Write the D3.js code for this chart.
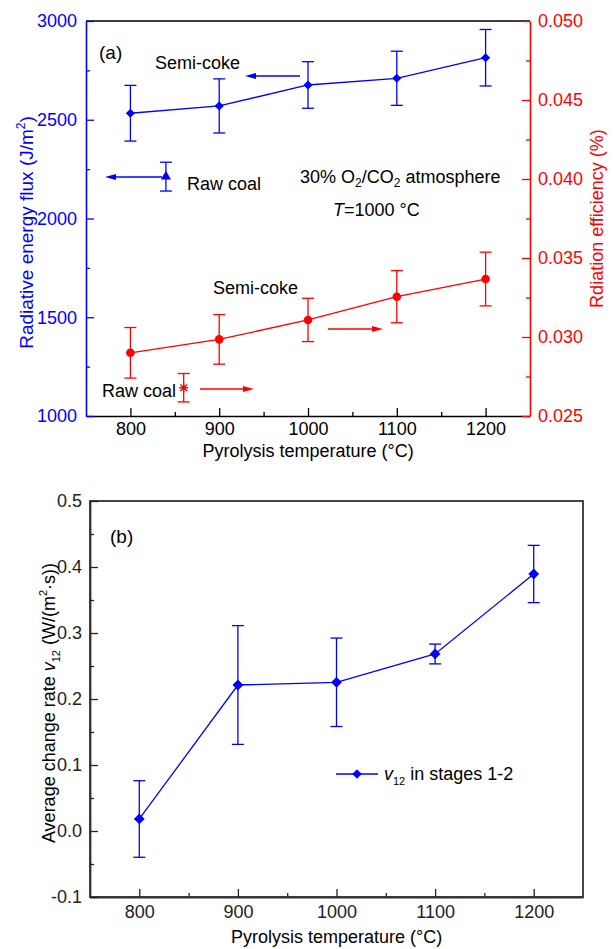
<!DOCTYPE html>
<html>
<head>
<meta charset="utf-8">
<script src="https://cdn.jsdelivr.net/npm/d3@7"></script>
<style>
  body { margin: 0; background: #fff; }
  svg { display: block; font-family: "Liberation Sans", Arial, sans-serif; }
</style>
</head>
<body>
<div id="chart"></div>
<script>
// Pyrolysis temperatures (x values shared by both panels)
const temps = [800, 900, 1000, 1100, 1200];

// Panel (a): semi-coke radiative energy flux (left axis) and radiation efficiency (right axis)
const fluxMean = [2533, 2570, 2676, 2710, 2814];
const fluxErr = [141, 137, 118, 137, 143];
const effMean = [0.0290, 0.02985, 0.03108, 0.03255, 0.03367];
const effErr = [0.0016, 0.00157, 0.00137, 0.00165, 0.0017];

// Panel (a): raw coal reference points
const rawFlux = {x: 840, y: 2212, err: 73};
const rawEff = {x: 860, y: 0.02679, err: 0.0009};

// Panel (b): average change rate v12
const v12Mean = [0.0182, 0.2212, 0.2253, 0.2682, 0.3894];
const v12Err = [0.058, 0.09, 0.067, 0.015, 0.0434];

// Tick values
const xTicks = [800, 900, 1000, 1100, 1200];
const xMinor = [850, 950, 1050, 1150];
const fluxTicks = [1000, 1500, 2000, 2500, 3000];
const fluxMinor = [1250, 1750, 2250, 2750];
const effTicks = [0.025, 0.030, 0.035, 0.040, 0.045, 0.050];
const effMinor = [0.0275, 0.0325, 0.0375, 0.0425, 0.0475];
const v12Ticks = [-0.1, 0.0, 0.1, 0.2, 0.3, 0.4, 0.5];
const v12Minor = [-0.05, 0.05, 0.15, 0.25, 0.35, 0.45];

const W = 613, H = 949;
const BLUE = "#0000ff", RED = "#ff0000";

const svg = d3.select("#chart").append("svg")
    .attr("width", W).attr("height", H);

// helper: axis with inward major + minor ticks
function drawAxis(g, axisFn, scale, major, minor, fmt, color, pad) {
    g.call(axisFn(scale).tickValues(major).tickSizeInner(-8).tickSizeOuter(0)
        .tickPadding(pad).tickFormat(fmt));
    g.call(sel => sel.selectAll(".tick text").attr("fill", color).attr("font-size", 18)
        .attr("font-family", "Liberation Sans, Arial, sans-serif"));
    g.call(sel => sel.selectAll(".tick line").attr("stroke", color).attr("stroke-width", 1.3));
    g.select(".domain").attr("stroke", color).attr("stroke-width", 1.6);
    const m = g.append("g").call(axisFn(scale).tickValues(minor).tickSizeInner(-4)
        .tickSizeOuter(0).tickFormat(""));
    m.select(".domain").remove();
    m.selectAll(".tick line").attr("stroke", color).attr("stroke-width", 1.3);
}

function errorBars(g, xs, ys, es, x, y, color) {
    const cap = 6;
    const eb = g.append("g").attr("stroke", color).attr("stroke-width", 1.3);
    xs.forEach((t, i) => {
        const cx = x(t), top = y(ys[i] + es[i]), bot = y(ys[i] - es[i]);
        eb.append("line").attr("x1", cx).attr("x2", cx).attr("y1", top).attr("y2", bot);
        eb.append("line").attr("x1", cx - cap).attr("x2", cx + cap).attr("y1", top).attr("y2", top);
        eb.append("line").attr("x1", cx - cap).attr("x2", cx + cap).attr("y1", bot).attr("y2", bot);
    });
}

function arrow(g, x1, y1, x2, y2, color) {
    const dir = Math.sign(x2 - x1);
    g.append("line").attr("x1", x1).attr("y1", y1).attr("x2", x2 - dir * 8).attr("y2", y2)
        .attr("stroke", color).attr("stroke-width", 1.3);
    g.append("path")
        .attr("d", `M${x2},${y2}L${x2 - dir * 11},${y2 - 3}L${x2 - dir * 11},${y2 + 3}Z`)
        .attr("fill", color);
}

// ---------- Panel (a) ----------
const a = {left: 86, right: 530, top: 21, bottom: 416};
const xa = d3.scaleLinear().domain([750, 1250]).range([a.left, a.right]);
const yFlux = d3.scaleLinear().domain([1000, 3000]).range([a.bottom, a.top]);
const yEff = d3.scaleLinear().domain([0.025, 0.050]).range([a.bottom, a.top]);

const ga = svg.append("g");

// top frame line
ga.append("line").attr("x1", a.left).attr("x2", a.right).attr("y1", a.top).attr("y2", a.top)
    .attr("stroke", "#000").attr("stroke-width", 1.6);

drawAxis(ga.append("g").attr("transform", `translate(0,${a.bottom})`),
    d3.axisBottom, xa, xTicks, xMinor, d3.format("d"), "#000", 6);
drawAxis(ga.append("g").attr("transform", `translate(${a.left},0)`),
    d3.axisLeft, yFlux, fluxTicks, fluxMinor, d3.format("d"), BLUE, 9);
drawAxis(ga.append("g").attr("transform", `translate(${a.right},0)`),
    d3.axisRight, yEff, effTicks, effMinor, d3.format(".3f"), RED, 8);

// blue series
errorBars(ga, temps, fluxMean, fluxErr, xa, yFlux, BLUE);
ga.append("path").datum(temps)
    .attr("fill", "none").attr("stroke", BLUE).attr("stroke-width", 1.3)
    .attr("d", d3.line().x(d => xa(d)).y((d, i) => yFlux(fluxMean[i])));
ga.append("g").selectAll("path").data(temps).join("path")
    .attr("transform", (d, i) => `translate(${xa(d)},${yFlux(fluxMean[i])}) rotate(45)`)
    .attr("d", d3.symbol(d3.symbolSquare, 42))
    .attr("fill", BLUE);

// red series
errorBars(ga, temps, effMean, effErr, xa, yEff, RED);
ga.append("path").datum(temps)
    .attr("fill", "none").attr("stroke", RED).attr("stroke-width", 1.3)
    .attr("d", d3.line().x(d => xa(d)).y((d, i) => yEff(effMean[i])));
ga.append("g").selectAll("circle").data(temps).join("circle")
    .attr("cx", d => xa(d)).attr("cy", (d, i) => yEff(effMean[i])).attr("r", 4.3)
    .attr("fill", RED);

// raw coal points
errorBars(ga, [rawFlux.x], [rawFlux.y], [rawFlux.err], xa, yFlux, BLUE);
ga.append("path")
    .attr("transform", `translate(${xa(rawFlux.x)},${yFlux(rawFlux.y)})`)
    .attr("d", d3.symbol(d3.symbolTriangle, 45)).attr("fill", BLUE);
errorBars(ga, [rawEff.x], [rawEff.y], [rawEff.err], xa, yEff, RED);
ga.append("path")
    .attr("transform", `translate(${xa(rawEff.x)},${yEff(rawEff.y)})`)
    .attr("d", "M-4.5,0H4.5M0,-4.5V4.5M-3.3,-3.3L3.3,3.3M-3.3,3.3L3.3,-3.3")
    .attr("stroke", RED).attr("stroke-width", 1.4).attr("fill", "none");

// arrows pointing to the relevant axis
arrow(ga, 300, 76, 245, 76, BLUE);
arrow(ga, 162, 177, 105, 177, BLUE);
arrow(ga, 328, 329, 383, 329, RED);
arrow(ga, 200, 389, 254, 389, RED);

// annotations
const txt = (g, x, y, s, opts = {}) => g.append("text").attr("x", x).attr("y", y)
    .attr("font-size", opts.size || 18).attr("fill", opts.fill || "#000")
    .attr("text-anchor", opts.anchor || "start").text(s);

txt(ga, 99, 59, "(a)", {size: 19});
txt(ga, 155, 69, "Semi-coke");
txt(ga, 187, 190, "Raw coal");
txt(ga, 213, 294, "Semi-coke");
txt(ga, 102, 397, "Raw coal");

const atm = ga.append("text").attr("x", 300).attr("y", 183).attr("font-size", 18).attr("fill", "#000");
atm.append("tspan").text("30% O");
atm.append("tspan").attr("font-size", 12).attr("dy", 4).text("2");
atm.append("tspan").attr("dy", -4).text("/CO");
atm.append("tspan").attr("font-size", 12).attr("dy", 4).text("2");
atm.append("tspan").attr("dy", -4).text(" atmosphere");

const tt = ga.append("text").attr("x", 333).attr("y", 216).attr("font-size", 18).attr("fill", "#000");
tt.append("tspan").attr("font-style", "italic").text("T");
tt.append("tspan").text("=1000 °C");

txt(ga, (a.left + a.right) / 2, 457, "Pyrolysis temperature (°C)", {anchor: "middle"});

const lt = ga.append("text").attr("transform", `translate(33,${(a.top + a.bottom) / 2 + 14}) rotate(-90)`)
    .attr("text-anchor", "middle").attr("font-size", 19).attr("fill", BLUE);
lt.append("tspan").text("Radiative energy flux (J/m");
lt.append("tspan").attr("font-size", 12).attr("dy", -8).text("2");
lt.append("tspan").attr("dy", 8).text(")");

ga.append("text").attr("transform", `translate(603,${(a.top + a.bottom) / 2}) rotate(-90)`)
    .attr("text-anchor", "middle").attr("font-size", 18).attr("fill", RED)
    .text("Rdiation efficiency (%)");

// ---------- Panel (b) ----------
const b = {left: 90, right: 583, top: 501, bottom: 897};
const xb = d3.scaleLinear().domain([750, 1250]).range([b.left, b.right]);
const yb = d3.scaleLinear().domain([-0.1, 0.5]).range([b.bottom, b.top]);

const gb = svg.append("g");
gb.append("rect").attr("x", b.left).attr("y", b.top)
    .attr("width", b.right - b.left).attr("height", b.bottom - b.top)
    .attr("fill", "none").attr("stroke", "#333").attr("stroke-width", 1.8);

// plain hyphen for negative numbers, like the original
const fmtV = d => d3.format(".1f")(d).replace("\u2212", "-");

drawAxis(gb.append("g").attr("transform", `translate(0,${b.bottom})`),
    d3.axisBottom, xb, xTicks, xMinor, d3.format("d"), "#222", 8);
drawAxis(gb.append("g").attr("transform", `translate(${b.left},0)`),
    d3.axisLeft, yb, v12Ticks, v12Minor, fmtV, "#222", 8);
gb.selectAll(".domain").attr("stroke", "#333").attr("stroke-width", 1.8);

errorBars(gb, temps, v12Mean, v12Err, xb, yb, BLUE);
gb.append("path").datum(temps)
    .attr("fill", "none").attr("stroke", BLUE).attr("stroke-width", 1.3)
    .attr("d", d3.line().x(d => xb(d)).y((d, i) => yb(v12Mean[i])));
gb.append("g").selectAll("path").data(temps).join("path")
    .attr("transform", (d, i) => `translate(${xb(d)},${yb(v12Mean[i])}) rotate(45)`)
    .attr("d", d3.symbol(d3.symbolSquare, 58))
    .attr("fill", BLUE);

txt(gb, 110, 543, "(b)", {size: 19});

// legend
gb.append("line").attr("x1", 336).attr("x2", 378).attr("y1", 774).attr("y2", 774)
    .attr("stroke", BLUE).attr("stroke-width", 1.3);
gb.append("path").attr("transform", "translate(357,774) rotate(45)")
    .attr("d", d3.symbol(d3.symbolSquare, 45)).attr("fill", BLUE);
const lg = gb.append("text").attr("x", 384).attr("y", 780).attr("font-size", 18).attr("fill", "#000");
lg.append("tspan").attr("font-style", "italic").text("v");
lg.append("tspan").attr("font-size", 11).attr("dy", 5).text("12");
lg.append("tspan").attr("dy", -5).text(" in stages 1-2");

txt(gb, (b.left + b.right) / 2, 943, "Pyrolysis temperature (°C)", {anchor: "middle"});

const bt = gb.append("text").attr("transform", `translate(55,${(b.top + b.bottom) / 2 + 4}) rotate(-90)`)
    .attr("text-anchor", "middle").attr("font-size", 18).attr("fill", "#000");
bt.append("tspan").text("Average change rate ");
bt.append("tspan").attr("font-style", "italic").text("v");
bt.append("tspan").attr("font-size", 11).attr("dy", 5).text("12");
bt.append("tspan").attr("dy", -5).text(" (W/(m");
bt.append("tspan").attr("font-size", 11).attr("dy", -8).text("2");
bt.append("tspan").attr("dy", 8).text("·s))");
</script>
</body>
</html>
